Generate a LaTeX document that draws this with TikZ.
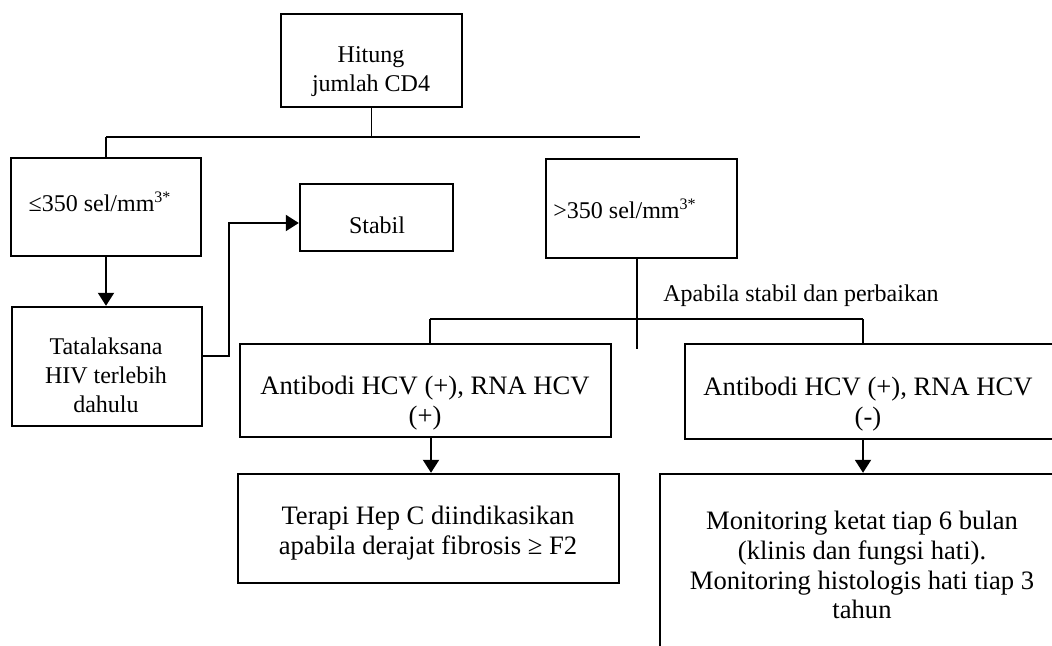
\documentclass[tikz,border=0pt]{standalone}
\usepackage{fontspec}
\setmainfont{Liberation Serif}
\usetikzlibrary{arrows.meta}
\begin{document}
\begin{tikzpicture}[x=0.5pt,y=-0.5pt,
  box/.style={draw,line width=1.2pt,inner sep=0pt},
  txt/.style={inner sep=0pt,align=center,font=\fontsize{12}{14.4}\selectfont},
  bigtxt/.style={inner sep=0pt,align=center,font=\fontsize{13.3}{14.9}\selectfont},
  thinline/.style={line width=0.6pt},
  arr/.style={line width=1pt,-{Triangle[length=6.5pt,width=8pt]}},
  link/.style={line width=1pt}]
\useasboundingbox (0,0) rectangle (1052,646);
\clip (0,0) rectangle (1052,646);

% boxes
\node[box,minimum width=90.5pt,minimum height=46.5pt] (hit) at (371.5,60.5) {};
\node[box,minimum width=95pt,minimum height=49pt] (le) at (106,207) {};
\node[box,minimum width=76.5pt,minimum height=33.5pt] (stabil) at (376.5,217.5) {};
\node[box,minimum width=95.5pt,minimum height=49.5pt] (gt) at (641.5,208.5) {};
\node[box,minimum width=95pt,minimum height=59.5pt] (tata) at (107,366.5) {};
\node[box,minimum width=185.5pt,minimum height=46.5pt] (ab1) at (425.5,390.5) {};
\node[box,minimum width=202.5pt,minimum height=47.5pt] (ab2) at (887.5,391.5) {};
\node[box,minimum width=190.5pt,minimum height=54.5pt] (ter) at (428.5,528.5) {};
\node[box,minimum width=215pt,minimum height=113pt] (mon) at (875,587) {};

% texts
\node[txt] (thit) at (371,72) {Hitung\\jumlah CD4};
\node[txt] (tle) at (100,202) {≤350 sel/mm\textsuperscript{3*}};
\node[txt] (tstabil) at (377,225) {Stabil};
\node[txt] (tgt) at (625,209) {>350 sel/mm\textsuperscript{3*}};
\node[txt] (ttata) at (106,375) {Tatalaksana\\HIV terlebih\\dahulu};
\node[bigtxt] (tab1) at (425,403) {Antibodi HCV (+), RNA HCV\\(+)};
\node[bigtxt] (tab2) at (868,404) {Antibodi HCV (+), RNA HCV\\(-)};
\node[bigtxt] (tter) at (428,533) {Terapi Hep C diindikasikan\\apabila derajat fibrosis ≥ F2};
\node[bigtxt] (tmon) at (862,565) {Monitoring ketat tiap 6 bulan\\(klinis dan fungsi hati).\\Monitoring histologis hati tiap 3\\tahun};
\node[txt,anchor=west] (lbl) at (663,296) {Apabila stabil dan perbaikan};

% connectors
\coordinate (jL) at (106,137);
\coordinate (jR) at (640,137);
\draw[thinline] (hit.south) -- (hit.south |- jL);
\draw[thinline] (jL) -- (jR);
\draw[link] (jL) -- (le.north -| jL);

\draw[arr] (le.south) -- (le.south |- tata.north);

\coordinate (tx) at (229,356);
\coordinate (sy) at (300,223);
\draw[arr] (tata.east |- tx) -- (tx) |- (stabil.west |- sy);

\coordinate (gtEnd) at (637,349);
\draw[thinline] (gt.south -| gtEnd) -- (gtEnd);

\coordinate (bL) at (430,319);
\coordinate (bR) at (863,319);
\draw[thinline] (bL) -- (bR);
\draw[link] (bL) -- (bL |- ab1.north);
\draw[link] (bR) -- (bR |- ab2.north);

\coordinate (a1x) at (431,0);
\coordinate (a2x) at (863,0);
\draw[arr] (ab1.south -| a1x) -- (ter.north -| a1x);
\draw[arr] (ab2.south -| a2x) -- (mon.north -| a2x);
\end{tikzpicture}
\end{document}
